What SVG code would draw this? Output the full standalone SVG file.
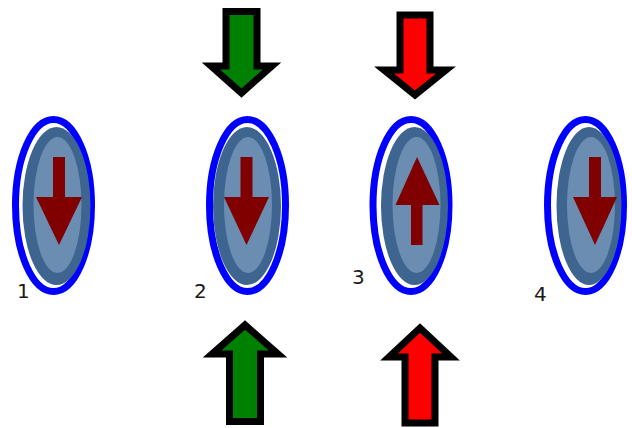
<svg xmlns="http://www.w3.org/2000/svg" width="632" height="428" viewBox="0 0 632 428">
<style>
.ring{fill:#ffffff;stroke:#0000ff;stroke-width:7}
.dark{fill:#3d6590}
.light{fill:#6b8db2}
.spin{fill:#800000}
.lbl{font-family:"DejaVu Sans",Verdana,sans-serif;font-size:20px;fill:#1a1a1a}
.force{stroke:#000000;stroke-width:7;stroke-linejoin:miter;stroke-miterlimit:10}
.g{fill:#008000}
.r{fill:#ff0000}
</style>
<rect width="632" height="428" fill="#ffffff"/>
<g id="site1">
<ellipse class="ring" cx="53.5" cy="205.5" rx="38" ry="86"/>
<ellipse class="dark" cx="56.5" cy="206" rx="34" ry="79"/>
<ellipse class="light" cx="57.5" cy="205" rx="24" ry="68"/>
<polygon class="spin" points="53,157 65,157 65,197 82,197 59,245 36,197 53,197"/>
<text class="lbl" x="17" y="298">1</text>
</g>
<g id="site2">
<ellipse class="ring" cx="247.5" cy="205.5" rx="38" ry="86"/>
<ellipse class="dark" cx="247" cy="206" rx="34" ry="79"/>
<ellipse class="light" cx="248" cy="205" rx="24" ry="68"/>
<polygon class="spin" points="240.5,157 252.5,157 252.5,197 269,197 246.5,245 224,197 240.5,197"/>
<text class="lbl" x="194" y="298">2</text>
</g>
<g id="site3">
<ellipse class="ring" cx="411" cy="205.5" rx="38" ry="86"/>
<ellipse class="dark" cx="414.5" cy="206" rx="33.5" ry="79"/>
<ellipse class="light" cx="416.5" cy="205" rx="24" ry="68"/>
<polygon class="spin" points="417,157 439.5,205 422.5,205 422.5,245 411,245 411,205 395.5,205"/>
<text class="lbl" x="352" y="284">3</text>
</g>
<g id="site4">
<ellipse class="ring" cx="585.5" cy="205.5" rx="38" ry="86"/>
<ellipse class="dark" cx="589" cy="206" rx="32.5" ry="79"/>
<ellipse class="light" cx="591" cy="205" rx="24" ry="68"/>
<polygon class="spin" points="589,157 601,157 601,197 617,197 595,245 573,197 589,197"/>
<text class="lbl" x="534" y="301">4</text>
</g>
<g id="forces">
<polygon class="force g" points="226,11.5 257,11.5 257,66 272,66 241.5,93 211,66 226,66"/>
<polygon class="force r" points="400,15 430,15 430,70 446,70 415,95 384,70 400,70"/>
<polygon class="force g" points="229.5,421.5 260.5,421.5 260.5,354 278,354 245,325 212,354 229.5,354"/>
<polygon class="force r" points="405,423 435,423 435,357 451,357 420,328 389,357 405,357"/>
</g>
</svg>
